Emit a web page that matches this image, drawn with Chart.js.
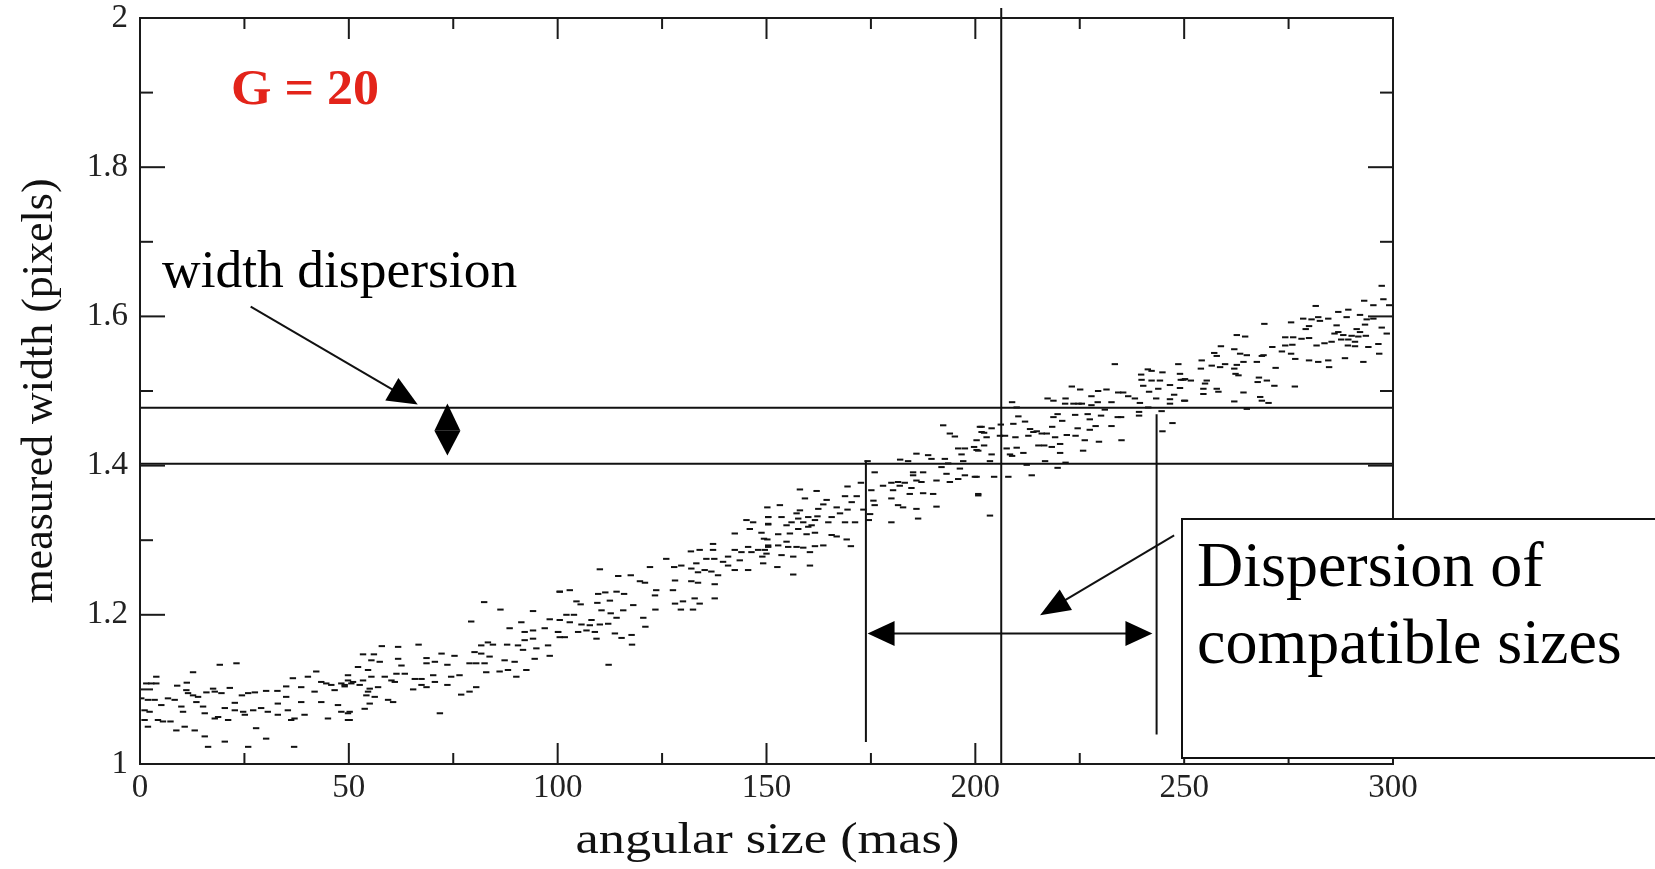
<!DOCTYPE html>
<html><head><meta charset="utf-8">
<script src="https://cdn.jsdelivr.net/npm/chart.js@4/dist/chart.umd.min.js"></script>
<style>html,body{margin:0;padding:0;background:#fff;overflow:hidden}#wrap{width:1655px;height:869px;position:relative}</style>
</head><body><div id="wrap"><canvas id="c" width="1655" height="869"></canvas></div>
<script>
// ---- data ----
const angularSize = [
19.1,23.1,12.7,3.9,1.5,2.7,3.9,8.9,11.2,11.1,11.5,12.7,13.9,15.9,17.5,17.9,19.5,21.5,22.7,24.4,25.9,27.5,30.2,32.9,35.0,36.6,38.6,40.2,42.2,43.4,44.6,45.8,46.6,48.2,49.0,49.8,51.0,
0.3,1.9,3.5,5.1,6.7,8.3,9.9,10.3,13.5,15.1,15.5,17.9,18.7,20.3,21.1,22.7,24.7,25.1,27.1,29.0,30.6,33.0,35.0,35.4,36.2,37.0,38.6,39.4,41.8,43.4,47.4,48.2,49.8,
1.1,2.3,1.1,1.9,4.3,5.5,7.3,8.7,10.7,13.1,15.5,16.3,20.3,25.9,27.8,30.2,33.0,36.9,45.0,49.8,
82.4,86.3,94.1,100.5,79.3,91.3,88.5,92.1,94.1,96.9,98.1,100.1,100.5,97.7,94.1,92.1,90.5,87.9,84.5,83.3,81.7,80.1,81.7,83.7,87.3,89.7,91.7,94.9,94.5,98.1,
78.9,80.5,82.5,88.1,86.1,90.1,92.5,82.9,75.3,73.6,72.2,68.6,68.6,70.6,66.7,61.8,57.9,56.0,53.4,55.4,57.4,52.2,54.6,61.8,62.6,63.4,61.4,60.2,58.6,55.4,
53.4,49.8,49.0,50.6,52.6,55.0,57.0,54.6,56.2,54.2,55.0,53.8,50.2,50.2,59.4,60.6,65.8,67.4,65.4,68.6,70.2,70.6,74.5,76.5,73.6,76.9,78.9,80.5,71.8,67.4,61.0,
150.2,150.4,150.4,145.2,146.8,146.0,148.8,142.4,149.4,150.4,149.6,148.0,145.6,144.0,146.4,149.0,149.2,145.6,142.4,140.8,139.6,140.8,142.4,143.6,137.2,137.2,137.5,135.6,134.0,131.9,
133.2,132.0,133.6,135.2,136.8,138.4,129.6,127.9,126.0,122.1,128.1,127.6,132.0,133.6,137.6,132.8,134.0,137.6,130.0,128.1,129.5,132.4,123.6,123.3,123.4,120.9,119.7,117.5,114.5,110.1,
115.9,114.1,111.4,109.7,112.5,109.5,100.5,102.9,104.5,105.5,110.5,112.7,115.7,118.1,114.1,120.5,121.0,102.1,103.9,100.5,102.9,105.7,107.7,110.1,112.1,108.1,106.9,104.9,108.9,109.3,
113.7,115.3,117.7,117.8,100.1,101.7,112.2,
192.3,193.9,195.1,201.1,201.5,195.9,197.5,199.7,200.3,196.7,185.9,182.0,183.9,188.7,189.5,192.7,193.5,197.1,174.2,175.9,177.9,179.9,181.5,183.1,185.1,185.1,187.5,185.9,187.1,184.7,
181.9,180.3,179.9,181.5,182.7,185.9,186.3,179.9,190.7,191.9,193.1,193.9,195.9,197.5,199.9,196.3,189.9,190.7,200.7,187.5,184.3,175.1,175.9,175.6,172.6,169.4,168.8,171.6,170.4,169.4,
166.8,173.2,174.8,174.5,171.2,168.8,167.6,165.6,164.8,164.4,163.6,162.4,162.2,161.6,162.0,159.2,158.0,158.0,160.0,158.8,160.8,160.0,157.6,157.2,156.0,154.8,153.6,153.2,150.4,150.4,
155.6,157.6,159.6,161.6,163.6,165.6,166.8,169.2,170.2,152.8,150.2,150.4,150.0,152.8,154.8,155.2,157.2,158.8,160.4,161.6,153.6,156.4,152.6,156.4,160.4,
233.4,248.6,241.3,242.2,244.8,249.0,239.7,239.8,242.2,244.2,249.2,249.8,246.6,249.0,243.8,240.2,241.6,243.3,247.6,250.0,246.6,246.6,223.1,225.1,229.4,231.4,234.2,235.4,236.6,238.2,
239.4,241.4,227.8,229.3,232.6,227.8,231.0,218.7,217.3,221.6,221.5,223.5,224.7,225.5,208.8,209.9,239.2,239.2,244.6,234.1,234.9,230.1,223.9,226.9,227.4,219.7,218.7,220.8,210.3,211.9,
209.1,206.1,232.6,228.8,227.4,247.2,244.8,201.5,202.1,203.9,202.7,207.1,205.9,209.6,213.1,213.9,214.7,212.7,215.9,217.1,218.4,219.1,221.9,224.0,226.2,224.5,229.6,235.0,215.1,216.5,
218.3,220.3,220.3,225.8,200.3,200.7,202.1,203.9,203.5,207.5,208.3,209.9,211.5,208.8,212.3,216.7,221.6,219.7,207.9,204.5,213.5,200.3,200.7,203.5,
297.3,297.7,299.1,295.3,293.1,289.3,286.9,281.5,292.1,288.9,284.5,282.5,282.1,280.5,278.5,275.6,279.9,279.1,269.2,293.7,295.3,293.3,291.3,297.3,292.1,290.1,288.1,286.9,286.5,286.0,
285.3,283.6,287.6,289.3,290.9,291.7,293.5,298.5,294.1,296.5,296.7,289.2,290.9,288.5,281.7,279.9,278.1,276.1,274.2,275.9,274.2,273.4,275.6,276.6,271.1,279.9,282.1,284.5,284.7,292.9,
262.6,264.6,258.8,257.2,257.8,262.0,263.4,265.0,268.6,269.0,264.2,262.6,262.0,262.3,263.0,259.8,258.6,256.6,254.2,254.0,251.6,250.2,255.4,255.0,254.6,257.8,258.2,254.6,250.2,267.4,
267.9,267.6,269.8,271.6,276.5,271.9,264.2,262.0,268.2,268.6,270.2,265.0
];
const measuredWidth = [
1.133,1.135,1.123,1.117,1.108,1.108,1.108,1.105,1.109,1.099,1.095,1.092,1.090,1.096,1.101,1.097,1.095,1.102,1.082,1.092,1.095,1.096,1.098,1.098,1.104,1.115,1.103,1.117,1.124,1.110,1.108,1.106,1.099,1.108,1.104,1.112,1.110,
1.088,1.086,1.086,1.079,1.088,1.086,1.077,1.070,1.083,1.077,1.068,1.061,1.063,1.075,1.059,1.072,1.070,1.066,1.072,1.075,1.070,1.081,1.090,1.072,1.059,1.061,1.083,1.066,1.097,1.083,1.079,1.070,1.068,
1.072,1.070,1.059,1.050,1.059,1.057,1.057,1.045,1.050,1.045,1.037,1.023,1.030,1.023,1.048,1.034,1.066,1.023,1.061,1.059,
1.217,1.207,1.205,1.231,1.191,1.190,1.182,1.177,1.179,1.182,1.194,1.177,1.170,1.159,1.168,1.166,1.159,1.160,1.160,1.163,1.159,1.150,1.148,1.144,1.139,1.137,1.153,1.155,1.141,1.145,
1.135,1.135,1.135,1.126,1.124,1.117,1.126,1.123,1.145,1.133,1.148,1.142,1.135,1.137,1.160,1.157,1.158,1.147,1.147,1.139,1.137,1.130,1.126,1.141,1.132,1.121,1.121,1.112,1.117,1.117,
1.112,1.119,1.106,1.108,1.106,1.101,1.103,1.097,1.090,1.092,1.081,1.074,1.070,1.059,1.086,1.083,1.114,1.114,1.100,1.103,1.119,1.110,1.117,1.119,1.106,1.093,1.097,1.103,1.068,1.106,1.110,
1.344,1.331,1.321,1.327,1.324,1.315,1.310,1.309,1.302,1.293,1.287,1.287,1.291,1.284,1.284,1.278,1.269,1.260,1.287,1.278,1.271,1.266,1.260,1.273,1.295,1.287,1.275,1.275,1.287,1.285,
1.269,1.262,1.257,1.260,1.258,1.253,1.266,1.264,1.275,1.264,1.246,1.233,1.245,1.243,1.241,1.222,1.215,1.222,1.218,1.215,1.207,1.207,1.233,1.226,1.207,1.243,1.245,1.253,1.252,1.261,
1.228,1.231,1.230,1.228,1.219,1.216,1.231,1.233,1.218,1.214,1.206,1.202,1.206,1.213,1.196,1.196,1.184,1.200,1.200,1.193,1.190,1.187,1.186,1.187,1.188,1.193,1.179,1.177,1.177,1.168,
1.175,1.169,1.173,1.160,1.177,1.170,1.133,
1.454,1.443,1.439,1.452,1.445,1.423,1.423,1.425,1.421,1.415,1.416,1.408,1.406,1.414,1.409,1.409,1.403,1.406,1.406,1.391,1.373,1.377,1.378,1.377,1.391,1.387,1.391,1.380,1.378,1.370,
1.373,1.367,1.356,1.347,1.344,1.342,1.329,1.324,1.380,1.398,1.389,1.378,1.382,1.387,1.385,1.396,1.362,1.345,1.360,1.363,1.362,1.367,1.347,1.353,1.377,1.372,1.359,1.359,1.351,1.341,
1.344,1.341,1.335,1.327,1.324,1.324,1.336,1.331,1.324,1.354,1.348,1.342,1.332,1.327,1.366,1.356,1.368,1.340,1.331,1.324,1.320,1.318,1.329,1.336,1.324,1.320,1.331,1.347,1.331,1.322,
1.309,1.315,1.308,1.310,1.293,1.307,1.305,1.301,1.292,1.308,1.301,1.291,1.282,1.293,1.298,1.291,1.291,1.290,1.284,1.292,1.280,1.278,1.264,1.254,1.266,
1.536,1.536,1.529,1.527,1.525,1.523,1.522,1.515,1.514,1.514,1.515,1.515,1.508,1.504,1.503,1.507,1.499,1.490,1.495,1.487,1.489,1.483,1.506,1.502,1.500,1.502,1.498,1.498,1.493,1.490,
1.484,1.478,1.493,1.485,1.485,1.481,1.475,1.487,1.490,1.490,1.483,1.483,1.483,1.483,1.485,1.478,1.472,1.467,1.473,1.465,1.465,1.467,1.468,1.469,1.462,1.469,1.465,1.460,1.466,1.459,
1.456,1.455,1.453,1.453,1.448,1.457,1.446,1.452,1.444,1.450,1.438,1.440,1.440,1.438,1.449,1.445,1.446,1.440,1.443,1.443,1.452,1.438,1.441,1.440,1.434,1.450,1.432,1.434,1.427,1.427,
1.425,1.429,1.417,1.420,1.434,1.420,1.427,1.415,1.406,1.423,1.415,1.424,1.417,1.413,1.401,1.406,1.404,1.397,1.385,1.385,1.387,1.385,1.362,1.333,
1.641,1.623,1.615,1.615,1.621,1.609,1.606,1.614,1.602,1.599,1.597,1.594,1.599,1.596,1.597,1.592,1.587,1.583,1.590,1.596,1.597,1.589,1.583,1.585,1.579,1.574,1.575,1.579,1.588,1.577,
1.566,1.564,1.569,1.569,1.566,1.573,1.574,1.577,1.559,1.563,1.550,1.561,1.560,1.544,1.561,1.571,1.570,1.572,1.572,1.562,1.561,1.553,1.550,1.543,1.559,1.541,1.539,1.541,1.532,1.539,
1.575,1.573,1.560,1.551,1.547,1.556,1.550,1.548,1.547,1.548,1.539,1.535,1.530,1.523,1.521,1.536,1.532,1.534,1.541,1.530,1.514,1.516,1.514,1.510,1.503,1.503,1.499,1.496,1.487,1.539,
1.518,1.512,1.514,1.507,1.506,1.531,1.498,1.486,1.492,1.487,1.484,1.476
];
const xTickLabels = ['0','50','100','150','200','250','300'];
const yTickLabels = ['1','1.2','1.4','1.6','1.8','2'];
const widthBand = [1.4024, 1.4776];          // horizontal lines
const compatibleSizes = [173.8, 243.4];      // vertical lines
const bestSize = 206.2;                       // central vertical line
const panelLabel = 'G = 20';

// ---- drawing ----
const SERIF = '"Liberation Serif", "DejaVu Serif", serif';

function line(ctx, x1, y1, x2, y2){ ctx.beginPath(); ctx.moveTo(x1,y1); ctx.lineTo(x2,y2); ctx.stroke(); }
function head(ctx, tx, ty, fx, fy, len, half){
  const a = Math.atan2(ty-fy, tx-fx);
  const bx = tx - len*Math.cos(a), by = ty - len*Math.sin(a);
  const nx = -Math.sin(a), ny = Math.cos(a);
  ctx.beginPath(); ctx.moveTo(tx,ty); ctx.lineTo(bx+nx*half, by+ny*half); ctx.lineTo(bx-nx*half, by-ny*half); ctx.closePath(); ctx.fill();
}

const framePlugin = {
  id: 'framePlugin',
  afterDatasetsDraw(chart){
    const {ctx, chartArea:a, scales:{x, y}} = chart;
    ctx.save();
    ctx.strokeStyle = '#111'; ctx.fillStyle = '#000'; ctx.lineWidth = 2;
    // annotation lines
    widthBand.forEach(v => { const py = y.getPixelForValue(v); line(ctx, a.left, py, a.right, py); });
    const spans = [[1.0295, 1.4067],[1.0394, 1.4688]];
    compatibleSizes.forEach((v,i) => { const px = x.getPixelForValue(v); line(ctx, px, y.getPixelForValue(spans[i][0]), px, y.getPixelForValue(spans[i][1])); });
    { const px = x.getPixelForValue(bestSize); line(ctx, px, y.getPixelForValue(1), px, y.getPixelForValue(2.0134)); }
    // double horizontal arrow
    { const py = y.getPixelForValue(1.175);
      const x1 = x.getPixelForValue(174.2), x2 = x.getPixelForValue(242.4);
      line(ctx, x1+20, py, x2-20, py);
      head(ctx, x1, py, x2, py, 27, 12.5); head(ctx, x2, py, x1, py, 27, 12.5); }
    // diamond (vertical double arrow)
    { const px = x.getPixelForValue(73.6);
      const yt = y.getPixelForValue(1.4832), ym = y.getPixelForValue(1.4466), yb = y.getPixelForValue(1.4137);
      ctx.beginPath(); ctx.moveTo(px, yt); ctx.lineTo(px+13, ym); ctx.lineTo(px-13, ym); ctx.closePath(); ctx.fill();
      ctx.beginPath(); ctx.moveTo(px, yb); ctx.lineTo(px+13, ym); ctx.lineTo(px-13, ym); ctx.closePath(); ctx.fill(); }
    // arrow from "width dispersion"
    { const fx = x.getPixelForValue(26.5), fy = y.getPixelForValue(1.613);
      const tx = x.getPixelForValue(66.5), ty = y.getPixelForValue(1.482);
      line(ctx, fx, fy, tx - 20, ty - 11.7);
      head(ctx, tx, ty, fx, fy, 30, 13); }
    // arrow from the box
    { const fx = x.getPixelForValue(247.6), fy = y.getPixelForValue(1.3066);
      const tx = x.getPixelForValue(215.5), ty = y.getPixelForValue(1.1995);
      line(ctx, fx, fy, tx + 20, ty - 12);
      head(ctx, tx, ty, fx, fy, 30, 12); }
    // frame + inside ticks
    ctx.strokeStyle = '#1a1a1a'; ctx.lineWidth = 2;
    ctx.strokeRect(a.left, a.top, a.right - a.left, a.bottom - a.top);
    x.ticks.forEach(t => {
      if (t.value <= 0 || t.value >= 300) return;
      const px = x.getPixelForValue(t.value);
      const L = Math.round(t.value) % 50 === 0 ? 21 : 11;
      line(ctx, px, a.bottom, px, a.bottom - L);
      line(ctx, px, a.top, px, a.top + L);
    });
    y.ticks.forEach(t => {
      const k = Math.round(t.value*10);
      if (k <= 10 || k >= 20) return;
      const py = y.getPixelForValue(t.value);
      const L = k % 2 === 0 ? 25 : 13;
      line(ctx, a.left, py, a.left + L, py);
      line(ctx, a.right, py, a.right - L, py);
    });
    ctx.restore();
  },
  afterDraw(chart){
    const {ctx, chartArea:a} = chart;
    ctx.save();
    // x axis title (drawn slightly widened, as in the source figure)
    ctx.fillStyle = '#111'; ctx.font = '44px ' + SERIF; ctx.textAlign = 'center'; ctx.textBaseline = 'alphabetic';
    ctx.translate((a.left + a.right) / 2 + 1, 853); ctx.scale(1.19, 1);
    ctx.fillText('angular size (mas)', 0, 0);
    ctx.restore();
    ctx.save();
    // panel label
    ctx.fillStyle = '#e3241a'; ctx.font = 'bold 50px ' + SERIF; ctx.textBaseline = 'alphabetic'; ctx.textAlign = 'left';
    ctx.translate(231, 104); ctx.scale(1.04, 1);
    ctx.fillText(panelLabel, 0, 0);
    ctx.restore();
    ctx.save();
    // width dispersion
    ctx.fillStyle = '#000'; ctx.font = '53.5px ' + SERIF; ctx.textAlign = 'left'; ctx.textBaseline = 'alphabetic';
    ctx.fillText('width dispersion', 162, 287);
    // box
    ctx.fillStyle = '#fff'; ctx.fillRect(1182, 519, 500, 239);
    ctx.strokeStyle = '#111'; ctx.lineWidth = 2; ctx.strokeRect(1182, 519, 500, 239);
    ctx.fillStyle = '#000'; ctx.font = '64px ' + SERIF;
    ctx.fillText('Dispersion of', 1197, 586);
    ctx.fillText('compatible sizes', 1197, 663);
    ctx.restore();
  }
};

const points = angularSize.map((v, i) => ({x: v, y: measuredWidth[i]}));

new Chart(document.getElementById('c'), {
  type: 'scatter',
  data: { datasets: [{ data: points, pointStyle: 'line', pointRadius: 3.2, pointBorderWidth: 2, borderColor: '#111', backgroundColor: '#111', showLine: false }] },
  options: {
    responsive: false, animation: false, devicePixelRatio: 1,
    layout: { padding: { top: 18, right: 262, left: 0, bottom: 0 } },
    plugins: { legend: { display: false }, tooltip: { enabled: false } },
    scales: {
      x: {
        type: 'linear', min: 0, max: 300,
        grid: { display: false, drawTicks: false, tickLength: 0 }, border: { display: false },
        ticks: { stepSize: 25, autoSkip: false, maxRotation: 0, padding: 5, color: '#222',
          font: { family: SERIF, size: 33, lineHeight: 1.2 },
          callback: v => (Math.round(v) % 50 === 0 ? xTickLabels[Math.round(v)/50] : '') },
        title: { display: false },
        afterFit: s => { s.height = 105; s.paddingLeft = 0; s.paddingRight = 0; }
      },
      y: {
        type: 'linear', min: 1, max: 2,
        grid: { display: false, drawTicks: false, tickLength: 0 }, border: { display: false },
        ticks: { stepSize: 0.1, autoSkip: false, padding: 12, color: '#222',
          font: { family: SERIF, size: 33 },
          callback: v => { const k = Math.round(v*10); return k % 2 === 0 ? yTickLabels[(k-10)/2] : ''; } },
        title: { display: true, text: 'measured width (pixels)', color: '#111', font: { family: SERIF, size: 44, lineHeight: 1 }, padding: { top: 18, bottom: 0 } },
        afterFit: s => { s.width = 140; s.paddingTop = 0; s.paddingBottom = 0; }
      }
    }
  },
  plugins: [framePlugin]
});
</script>
</body></html>
